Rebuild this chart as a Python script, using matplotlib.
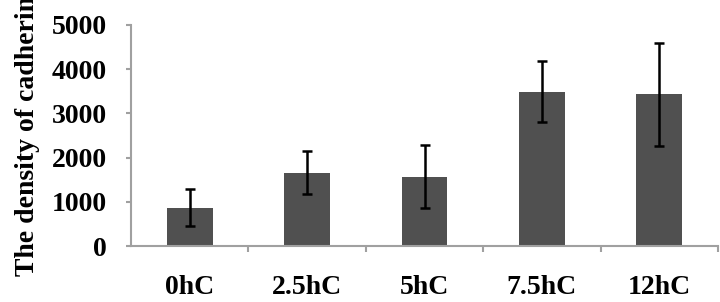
import numpy as np
import matplotlib.pyplot as plt

# values
groups = ['0hC', '2.5hC', '5hC', '7.5hC', '12hC']
density = [870, 1660, 1570, 3490, 3430]
err = [420, 490, 715, 690, 1170]
yticks = [0, 1000, 2000, 3000, 4000, 5000]

plt.rcParams['font.family'] = ['Liberation Serif', 'DejaVu Serif']
plt.rcParams['font.weight'] = 'bold'

fig = plt.figure(figsize=(7.2, 3.02), dpi=100)
ax = fig.add_axes([131/720, 1-246/302, (718-131)/720, (246-25)/302])

x = np.arange(len(groups))
ax.bar(x, density, width=0.39, color='#505050', zorder=2)
ax.errorbar(x, density, yerr=err, fmt='none', ecolor='black',
            elinewidth=1.8, capsize=3.8, capthick=1.8, zorder=3)

fs = 20
ax.set_xlim(-0.5, len(groups)-0.5)
ax.set_ylim(0, 5000)
ax.set_yticks(yticks)
ax.set_yticklabels([str(t) for t in yticks], fontsize=fs, fontweight='bold')
ax.set_xticks(x)
ax.set_xticklabels(groups, fontsize=fs, fontweight='bold')
ax.set_xticks(np.arange(0.5, len(groups), 1.0), minor=True)

axcol = '#a0a0a0'
for s in ['top', 'right']:
    ax.spines[s].set_visible(False)
for s in ['left', 'bottom']:
    ax.spines[s].set_color(axcol)
    ax.spines[s].set_linewidth(1.5)
ax.tick_params(axis='y', length=3.5, width=1.5, color=axcol, pad=14)
ax.tick_params(axis='x', which='major', length=0, pad=21)
ax.tick_params(axis='x', which='minor', length=4, width=1.5, color=axcol)

fig.text(28/720, 1-276/302, 'The density of cadherin', rotation=90,
         ha='center', va='bottom', fontsize=fs, fontweight='bold')

fig.savefig('out.png', dpi=100)
